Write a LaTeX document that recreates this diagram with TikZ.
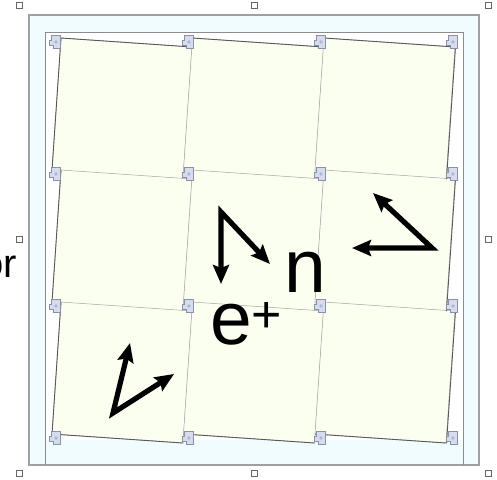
\documentclass[tikz,border=0pt]{standalone}
\usepackage{fontspec}
\setmainfont{Liberation Sans}
\usetikzlibrary{arrows.meta}
\definecolor{outerfill}{HTML}{F1FCFE}
\definecolor{tilefill}{HTML}{FAFFF0}
\definecolor{framegray}{HTML}{A0A0A0}
\definecolor{hingefill}{HTML}{D6DCEE}
\definecolor{hingeline}{HTML}{8A90A8}
\tikzset{
  outerframe/.style={draw=framegray, line width=1.2pt, fill=outerfill},
  innerframe/.style={draw=black!45, line width=0.8pt},
  tileshape/.style={fill=tilefill, draw=black!35, line width=0.5pt},
  tileedge/.style={draw=black!65, line width=0.9pt},
  hingebody/.style={fill=hingefill, draw=hingeline, line width=0.4pt},
  handle/.style={draw=black!60, fill=white, line width=0.5pt},
  bigarrow/.style={line width=5.2pt, line join=miter,
    {Stealth[length=19pt,width=16pt,inset=3pt]}-{Stealth[length=19pt,width=16pt,inset=3pt]}},
  bigtext/.style={inner sep=0pt, font=\fontsize{75}{80}\selectfont},
}
\begin{document}
\begin{tikzpicture}[x=1pt,y=-1pt]
\useasboundingbox (0,0) rectangle (497,479);
\clip (0,0) rectangle (497,479);
% frames
\path[outerframe] (29,15) rectangle (479,465);
\fill[white] (45,32) rectangle (463,440);
\draw[innerframe] (45,465) -- (45,32) -- (463,32) -- (463,465);
% tiles
\foreach \r in {0,1,2}{
  \foreach \c in {0,1,2}{
    \pgfmathsetmacro{\xa}{61+131.5*\c}
    \pgfmathsetmacro{\ya}{38+132*\r}
    \path[tileshape] (\xa,\ya) -- ++(131,9) -- ++(-9,132) -- ++(-131,-9) -- cycle;
  }
}
% outer edges of the tile block
\foreach \c in {0,1,2}{
  \pgfmathsetmacro{\xa}{61+131.5*\c}
  \draw[tileedge] (\xa,38) -- ++(131,9);
  \draw[tileedge] (\xa-9,302+132) -- ++(131,9);
}
\foreach \r in {0,1,2}{
  \pgfmathsetmacro{\ya}{38+132*\r}
  \draw[tileedge] (61,\ya) -- ++(-9,132);
  \draw[tileedge] (61+131.5*3,\ya+9) -- ++(-9,132);
}
% hinges
\foreach \hx in {55,188,320,452}{
  \foreach \hy in {42,174,306,438}{
    \draw[hingebody] (\hx-4,\hy-7) -- (\hx+5,\hy-7) -- (\hx+5,\hy+6) -- (\hx-2,\hy+6) -- (\hx-2,\hy+3) -- (\hx-6,\hy+3) -- (\hx-6,\hy-2) -- (\hx-4,\hy-2) -- cycle;
    \draw[hingeline, line width=0.4pt] (\hx+1,\hy) circle (1.4);
  }
}
% arrows
\coordinate (v1) at (221,212);
\coordinate (t1a) at (221,284);
\coordinate (t1b) at (270,264);
\draw[bigarrow] (t1a) -- (v1) -- (t1b);
\coordinate (v2) at (432,248);
\coordinate (t2a) at (373,193);
\coordinate (t2b) at (352,248);
\draw[bigarrow] (t2a) -- (v2) -- (t2b);
\coordinate (v3) at (113,413);
\coordinate (t3a) at (130,343);
\coordinate (t3b) at (174,374);
\draw[bigarrow] (t3a) -- (v3) -- (t3b);
% labels
\node[bigtext, anchor=base west] (n) at (284,292) {n};
\node[bigtext, anchor=base west] (ep) at (210,344) {e\raisebox{12pt}{\fontsize{52}{56}\selectfont +}};
\node[inner sep=0pt, anchor=base east, font=\fontsize{40}{44}\selectfont] (or) at (17,277) {or};
% selection handles
\foreach \px/\py in {19/5,254/5,488/5,19/239,488/239,19/473,254/473,488/473}{
  \path[handle] (\px-3,\py-3) rectangle (\px+3,\py+3);
}
\end{tikzpicture}
\end{document}
